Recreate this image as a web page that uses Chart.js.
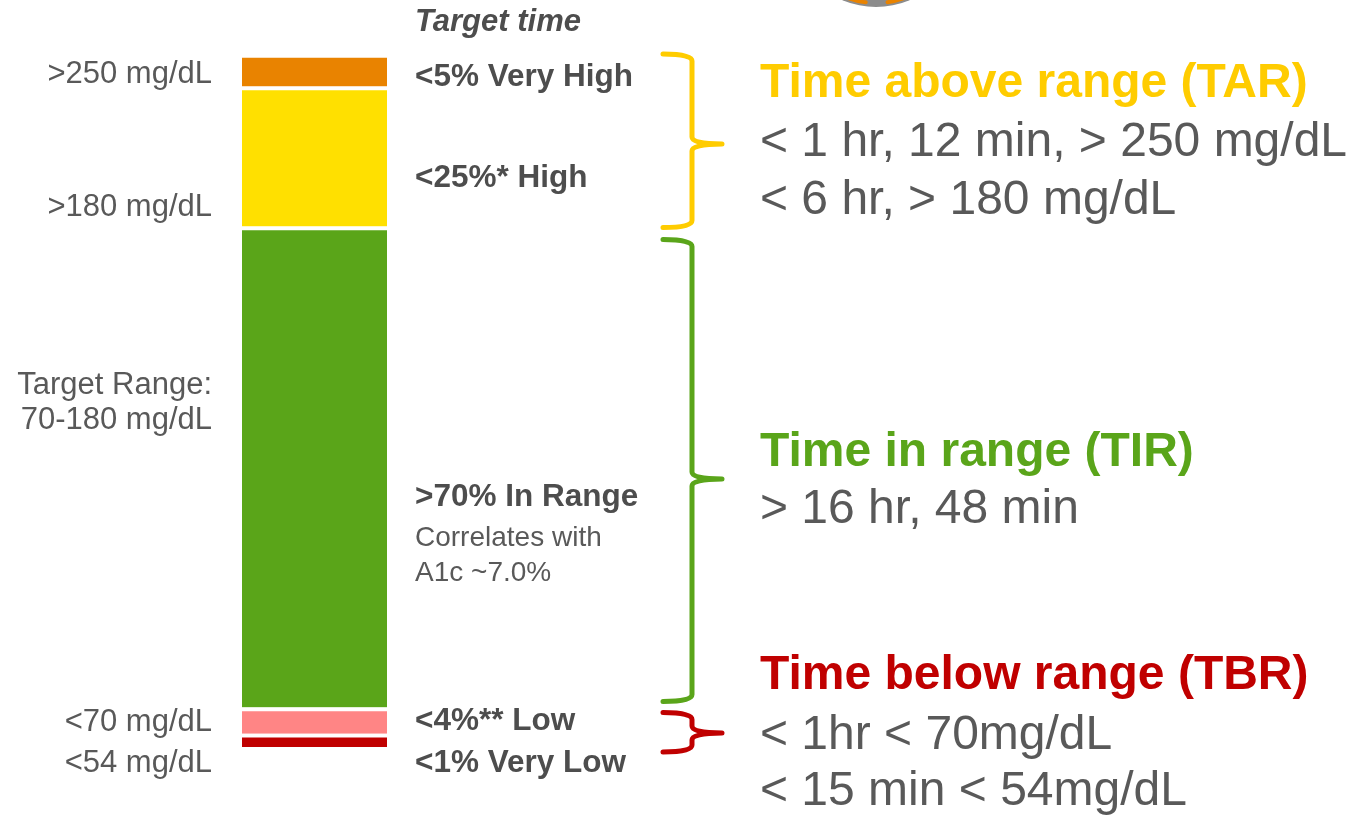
<!DOCTYPE html>
<html lang="en">
  <head>
    <meta charset="UTF-8" />
    <title>Time in range targets</title>
    <style>
      body { margin: 0; background: #fff; }
      #wrap { width: 1350px; height: 816px; position: relative; }
    </style>
  </head>
  <body>
    <div id="wrap"><canvas id="tir"></canvas></div>

    <script src="https://cdn.jsdelivr.net/npm/chart.js"></script>
    <script>
      // data (share of the bar, bottom to top)
      const categories = ['Glucose'];
      const segmentNames = ['Very Low', 'Low', 'In Range', 'High', 'Very High'];
      const segmentValues = [1.9, 3.8, 69.4, 20.2, 4.7];
      const segmentColors = ['#C00000', '#FF8585', '#5AA519', '#FFE000', '#E98300'];

      // text around the bar
      const leftLabels = ['>250 mg/dL', '>180 mg/dL', 'Target Range:', '70-180 mg/dL', '<70 mg/dL', '<54 mg/dL'];
      const targetLabels = ['<5% Very High', '<25%* High', '>70% In Range', '<4%** Low', '<1% Very Low'];
      const tirNote = ['Correlates with', 'A1c ~7.0%'];
      const tarText = ['Time above range (TAR)', '< 1 hr, 12 min, > 250 mg/dL', '< 6 hr, > 180 mg/dL'];
      const tirText = ['Time in range (TIR)', '> 16 hr, 48 min'];
      const tbrText = ['Time below range (TBR)', '< 1hr < 70mg/dL', '< 15 min < 54mg/dL'];

      const grey = '#595959';
      const darkGrey = '#4d4d4d';
      const font = '"Liberation Sans", Arial, sans-serif';

      function brace(ctx, x0, x1, xt, top, tip, bottom, color) {
        const r = 7;
        ctx.save();
        ctx.strokeStyle = color;
        ctx.lineWidth = 5;
        ctx.lineCap = 'round';
        ctx.lineJoin = 'round';
        ctx.beginPath();
        ctx.moveTo(x0, top);
        ctx.quadraticCurveTo(x1, top, x1, top + r);
        ctx.lineTo(x1, tip - r);
        ctx.quadraticCurveTo(x1, tip, xt, tip);
        ctx.moveTo(xt, tip);
        ctx.quadraticCurveTo(x1, tip, x1, tip + r);
        ctx.lineTo(x1, bottom - r);
        ctx.quadraticCurveTo(x1, bottom, x0, bottom);
        ctx.stroke();
        ctx.restore();
      }

      function text(ctx, str, x, y, size, color, weight, align) {
        ctx.font = (weight || '') + ' ' + size + 'px ' + font;
        ctx.fillStyle = color;
        ctx.textAlign = align || 'left';
        ctx.textBaseline = 'middle';
        ctx.fillText(str, x, y);
      }

      const annotate = {
        id: 'annotate',
        afterDraw(chart) {
          const ctx = chart.ctx;
          const y = chart.scales.y;
          let cum = [0];
          segmentValues.forEach((v, i) => cum.push(cum[i] + v));

          // partial icon cut off at the top
          ctx.save();
          ctx.beginPath();
          ctx.arc(876, -79, 86, 0, Math.PI * 2);
          ctx.fillStyle = '#8c8c8c';
          ctx.fill();
          ctx.lineWidth = 4;
          ctx.strokeStyle = '#E98300';
          ctx.lineCap = 'round';
          ctx.beginPath();
          ctx.arc(876, -79, 82, Math.PI * 0.54, Math.PI * 0.63);
          ctx.stroke();
          ctx.beginPath();
          ctx.arc(876, -79, 82, Math.PI * 0.37, Math.PI * 0.455);
          ctx.stroke();
          ctx.restore();

          // left labels
          text(ctx, leftLabels[0], 212, 74, 31, grey, '', 'right');
          text(ctx, leftLabels[1], 212, 207, 31, grey, '', 'right');
          text(ctx, leftLabels[2], 212, 385, 31, grey, '', 'right');
          text(ctx, leftLabels[3], 212, 420, 31, grey, '', 'right');
          text(ctx, leftLabels[4], 212, 722, 31, grey, '', 'right');
          text(ctx, leftLabels[5], 212, 763, 31, grey, '', 'right');

          // target column
          text(ctx, 'Target time', 415, 22, 31, darkGrey, 'italic bold');
          text(ctx, targetLabels[0], 415, 77, 31.5, darkGrey, 'bold');
          text(ctx, targetLabels[1], 415, 178, 31.5, darkGrey, 'bold');
          text(ctx, targetLabels[2], 415, 497, 31.5, darkGrey, 'bold');
          text(ctx, tirNote[0], 415, 538, 28, grey, '');
          text(ctx, tirNote[1], 415, 573, 28, grey, '');
          text(ctx, targetLabels[3], 415, 721, 31.5, darkGrey, 'bold');
          text(ctx, targetLabels[4], 415, 763, 31.5, darkGrey, 'bold');

          // braces
          brace(ctx, 663, 692, 722, y.getPixelForValue(cum[5]), 144, y.getPixelForValue(cum[3]) + 1, '#FFCC00');
          brace(ctx, 663, 692, 722, y.getPixelForValue(cum[3]) + 13, 479, y.getPixelForValue(cum[2]) - 6, '#5AA51A');
          brace(ctx, 663, 692, 722, y.getPixelForValue(cum[2]) + 5, 733, y.getPixelForValue(cum[0]) + 5, '#C00000');

          // right column
          text(ctx, tarText[0], 760, 84, 48, '#FFCC00', 'bold');
          text(ctx, tarText[1], 760, 143, 48, grey, '');
          text(ctx, tarText[2], 760, 201, 48, grey, '');
          text(ctx, tirText[0], 760, 453, 48, '#5AA51A', 'bold');
          text(ctx, tirText[1], 760, 510, 48, grey, '');
          text(ctx, tbrText[0], 760, 676, 48, '#C00000', 'bold');
          text(ctx, tbrText[1], 760, 736, 48, grey, '');
          text(ctx, tbrText[2], 760, 792, 48, grey, '');
        },
      };

      const datasets = segmentNames.map((name, i) => ({
        label: name,
        data: [segmentValues[i]],
        backgroundColor: segmentColors[i],
        borderColor: '#ffffff',
        borderWidth: { top: 4, bottom: 0, left: 0, right: 0 },
        borderSkipped: false,
        barPercentage: 1,
        categoryPercentage: 1,
      }));

      const config = {
        type: 'bar',
        data: { labels: categories, datasets: datasets },
        options: {
          responsive: true,
          maintainAspectRatio: false,
          animation: false,
          layout: { padding: { top: 54, bottom: 69, left: 242, right: 963 } },
          plugins: { legend: { display: false }, tooltip: { enabled: false } },
          scales: {
            x: { stacked: true, display: false },
            y: { stacked: true, display: false, min: 0, max: 100 },
          },
        },
        plugins: [annotate],
      };

      new Chart(document.getElementById('tir'), config);
    </script>
  </body>
</html>
